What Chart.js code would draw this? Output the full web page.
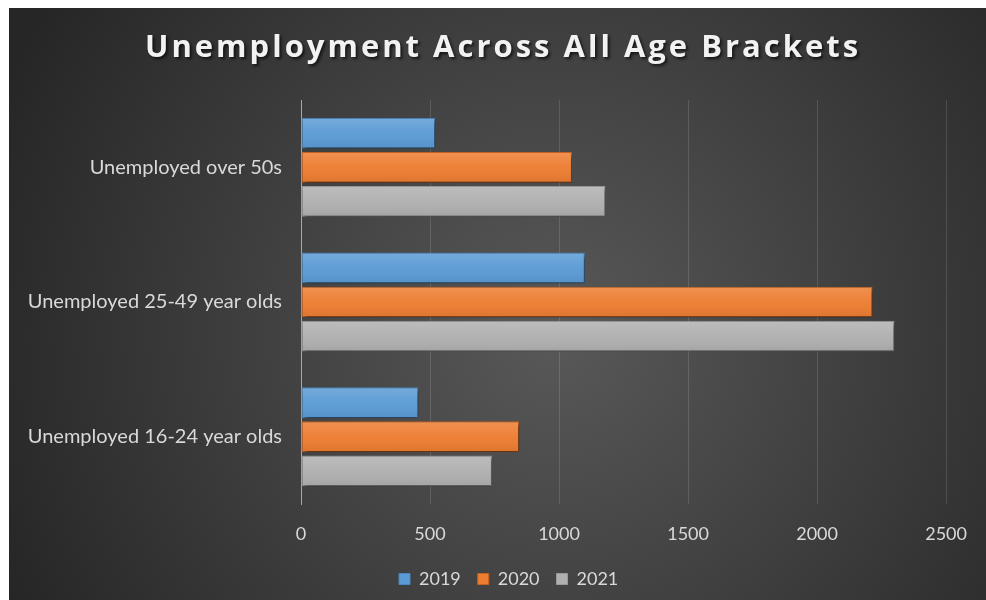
<!DOCTYPE html>
<html>
<head>
<meta charset="utf-8">
<script src="https://cdn.jsdelivr.net/npm/chart.js@4"></script>
<style>
  html, body { margin: 0; padding: 0; background: #fff; overflow: hidden; }
  #chart { position: absolute; left: 9px; top: 8px; width: 977px; height: 592px; }
</style>
</head>
<body>
<canvas id="chart" width="977" height="592"></canvas>
<script>
// chart data
var categories = ['Unemployed over 50s', 'Unemployed 25-49 year olds', 'Unemployed 16-24 year olds'];
var seriesNames = ['2019', '2020', '2021'];
var values2019 = [520, 1100, 455];
var values2020 = [1050, 2215, 845];
var values2021 = [1180, 2300, 740];
var xMin = 0, xMax = 2500, xStep = 500;

var fillColors = ['#5b9bd5', '#ed7d31', '#b0b0b0'];
var edgeColors = ['#4a86c0', '#c8621f', '#9a9a9a'];
var textColor = '#d9d9d9';

// dark radial background like the Excel style
var backgroundPlugin = {
    id: 'darkBackground',
    beforeDraw: function (chart) {
        var ctx = chart.ctx;
        var w = chart.width, h = chart.height;
        var g = ctx.createRadialGradient(w * 0.56, h * 0.55, 20, w * 0.56, h * 0.55, w * 0.62);
        g.addColorStop(0, '#575757');
        g.addColorStop(1, '#262626');
        ctx.save();
        ctx.fillStyle = g;
        ctx.fillRect(0, 0, w, h);
        ctx.restore();

        // title with letter spacing and a soft shadow
        var t = chart.titleBlock;
        if (t && !t._patched) {
            var orig = t.draw;
            t.draw = function () {
                var c = this.ctx;
                c.save();
                c.letterSpacing = '3px';
                c.shadowColor = 'rgba(0,0,0,0.65)';
                c.shadowOffsetX = 2;
                c.shadowOffsetY = 2;
                c.shadowBlur = 3;
                orig.call(this);
                c.restore();
            };
            t._patched = true;
        }
    }
};

// bar shadow + light gloss on top
var barStylePlugin = {
    id: 'barStyle',
    beforeDatasetsDraw: function (chart) {
        var ctx = chart.ctx;
        ctx.save();
        ctx.shadowColor = 'rgba(0,0,0,0.55)';
        ctx.shadowOffsetX = 2;
        ctx.shadowOffsetY = 3;
        ctx.shadowBlur = 4;
    },
    afterDatasetsDraw: function (chart) {
        var ctx = chart.ctx;
        ctx.restore();
        ctx.save();
        chart.data.datasets.forEach(function (ds, i) {
            var meta = chart.getDatasetMeta(i);
            meta.data.forEach(function (bar) {
                var p = bar.getProps(['x', 'y', 'base', 'height'], true);
                var top = p.y - p.height / 2;
                var g = ctx.createLinearGradient(0, top, 0, top + p.height);
                g.addColorStop(0, 'rgba(255,255,255,0.16)');
                g.addColorStop(0.5, 'rgba(255,255,255,0.03)');
                g.addColorStop(1, 'rgba(0,0,0,0.07)');
                ctx.fillStyle = g;
                ctx.fillRect(Math.min(p.base, p.x) + 1, top + 1, Math.abs(p.x - p.base) - 2, p.height - 2);
            });
        });
        ctx.restore();
    }
};

// title and legend start points
var placePlugin = {
    id: 'placeBoxes',
    afterLayout: function (chart) {
        if (chart.titleBlock) { chart.titleBlock.left = 136; }
        if (chart.legend) { chart.legend.left = 373; }
    }
};

var ctx = document.getElementById('chart').getContext('2d');
var chart = new Chart(ctx, {
    type: 'bar',
    data: {
        labels: categories,
        datasets: [values2019, values2020, values2021].map(function (vals, i) {
            return {
                label: seriesNames[i],
                data: vals,
                backgroundColor: fillColors[i],
                borderColor: edgeColors[i],
                borderWidth: 1,
                borderSkipped: false,
                categoryPercentage: 0.76,
                barPercentage: 0.9
            };
        })
    },
    options: {
        indexAxis: 'y',
        responsive: false,
        animation: false,
        layout: { padding: { left: 0, right: 38, top: 0, bottom: 2 } },
        scales: {
            x: {
                min: xMin,
                max: xMax,
                ticks: {
                    stepSize: xStep,
                    color: textColor,
                    padding: 19,
                    font: { family: 'Lato', size: 18 },
                    callback: function (v) { return String(v); }
                },
                grid: {
                    color: function (c) { return c.index === 0 ? 'rgba(0,0,0,0)' : 'rgba(255,255,255,0.13)'; },
                    drawTicks: false
                },
                border: { display: false },
                afterFit: function (scale) { scale.height = 49; }
            },
            y: {
                ticks: {
                    color: textColor,
                    padding: 19,
                    font: { family: 'Lato', size: 20 }
                },
                grid: { display: false, drawTicks: false },
                border: { display: true, color: '#a8a8a8', width: 1 },
                afterFit: function (scale) { scale.width = 292; }
            }
        },
        plugins: {
            title: {
                display: true,
                align: 'start',
                text: 'Unemployment Across All Age Brackets',
                color: '#f2f2f2',
                font: { family: 'Open Sans', size: 31, weight: 'bold' },
                padding: { top: 21.4, bottom: 33.4 }
            },
            legend: {
                position: 'bottom',
                align: 'start',
                labels: {
                    color: textColor,
                    boxWidth: 11,
                    boxHeight: 11,
                    padding: 17,
                    font: { family: 'Lato', size: 18 }
                }
            },
            tooltip: { enabled: false }
        }
    },
    plugins: [backgroundPlugin, barStylePlugin, placePlugin]
});
</script>
</body>
</html>
